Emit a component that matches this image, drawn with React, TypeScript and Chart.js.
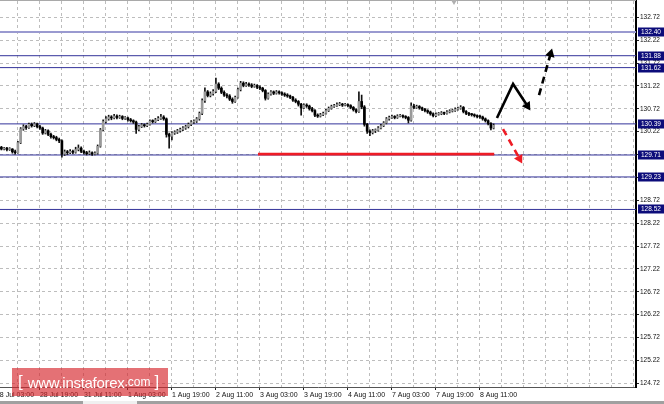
import React, { useEffect, useRef } from "react";
import { Chart, registerables } from "chart.js";
Chart.register(...registerables);

// H1 candles (index 0 = 28 Jul 03:00)
const opens = [129.85,129.86,129.88,129.84,129.86,129.83,129.84,129.78,129.76,129.98,
130.28,130.33,130.31,130.38,130.35,130.39,130.33,130.30,130.19,130.24,
130.16,130.11,130.09,130.05,130.02,129.73,129.78,129.76,129.79,129.77,
129.83,129.86,129.79,129.76,129.74,129.76,129.73,129.75,129.90,130.26,
130.44,130.50,130.54,130.52,130.56,130.53,130.55,130.51,130.52,130.48,
130.46,130.43,130.27,130.33,130.37,130.35,130.38,130.45,130.44,130.48,
130.51,130.54,130.50,130.16,130.12,130.19,130.21,130.24,130.27,130.30,
130.33,130.38,130.43,130.45,130.50,130.62,130.90,131.09,131.01,131.05,
131.10,131.26,131.17,131.08,131.02,131.00,130.93,130.88,130.97,131.14,
131.28,131.23,131.26,131.24,131.21,131.23,131.19,131.17,131.12,130.95,
131.04,131.09,131.06,131.09,131.07,131.04,131.02,131.00,130.97,130.91,
130.88,130.82,130.74,130.80,130.78,130.72,130.68,130.58,130.56,130.59,
130.62,130.68,130.73,130.77,130.79,130.81,130.82,130.80,130.81,130.79,
130.75,130.70,130.66,130.88,130.76,130.38,130.23,130.20,130.24,130.25,
130.30,130.35,130.41,130.50,130.53,130.55,130.53,130.56,130.57,130.55,
130.53,130.47,130.78,130.75,130.77,130.74,130.71,130.68,130.65,130.61,
130.57,130.60,130.61,130.63,130.62,130.65,130.67,130.68,130.71,130.73,
130.75,130.66,130.62,130.60,130.59,130.57,130.55,130.54,130.50,130.46,
130.40,130.30];

const highs = [129.89,129.91,129.90,129.88,129.88,129.87,129.85,129.82,130.01,130.31,
130.37,130.36,130.41,130.41,130.42,130.41,130.36,130.32,130.27,130.26,
130.19,130.14,130.12,130.08,130.04,129.82,129.81,129.83,129.82,129.88,
129.93,129.89,129.82,129.79,129.80,129.78,129.78,129.93,130.29,130.48,
130.55,130.58,130.57,130.60,130.59,130.58,130.57,130.55,130.54,130.51,
130.48,130.45,130.36,130.40,130.39,130.41,130.48,130.48,130.51,130.55,
130.60,130.57,130.52,130.19,130.22,130.24,130.27,130.30,130.33,130.36,
130.41,130.46,130.48,130.53,130.65,130.94,131.18,131.12,131.09,131.14,
131.39,131.29,131.20,131.11,131.05,131.03,130.96,131.00,131.17,131.32,
131.31,131.30,131.29,131.27,131.26,131.25,131.22,131.19,131.14,131.07,
131.12,131.11,131.12,131.11,131.09,131.07,131.05,131.02,130.99,130.94,
130.90,130.84,130.83,130.83,130.80,130.75,130.70,130.61,130.62,130.65,
130.71,130.76,130.80,130.82,130.85,130.86,130.84,130.84,130.83,130.81,
130.77,130.72,131.09,131.02,130.79,130.40,130.26,130.27,130.28,130.33,
130.38,130.44,130.53,130.56,130.58,130.57,130.59,130.60,130.59,130.57,
130.55,130.85,130.82,130.80,130.79,130.76,130.73,130.70,130.67,130.63,
130.63,130.64,130.66,130.65,130.68,130.70,130.71,130.74,130.76,130.79,
130.77,130.68,130.64,130.62,130.61,130.59,130.58,130.56,130.52,130.48,
130.42,130.39];

const lows = [129.82,129.84,129.82,129.82,129.80,129.81,129.75,129.73,129.75,129.96,
130.25,130.27,130.29,130.32,130.33,130.30,130.27,130.16,130.17,130.13,
130.08,130.06,130.02,129.98,129.66,129.70,129.72,129.74,129.74,129.75,
129.80,129.76,129.73,129.71,129.72,129.70,129.71,129.73,129.88,130.24,
130.41,130.47,130.48,130.50,130.50,130.51,130.48,130.49,130.45,130.43,
130.40,130.18,130.24,130.31,130.32,130.33,130.36,130.41,130.42,130.46,
130.49,130.47,130.10,129.86,130.04,130.16,130.18,130.21,130.24,130.27,
130.30,130.35,130.40,130.42,130.47,130.59,130.86,130.98,130.98,131.02,
131.07,131.14,131.05,130.99,130.96,130.90,130.84,130.86,130.95,131.11,
131.20,131.21,131.21,131.18,131.19,131.16,131.14,131.09,130.91,130.93,
131.02,131.03,131.04,131.04,131.01,130.99,130.97,130.94,130.88,130.85,
130.78,130.58,130.72,130.75,130.69,130.65,130.55,130.53,130.54,130.57,
130.60,130.66,130.71,130.75,130.77,130.79,130.77,130.78,130.76,130.72,
130.67,130.63,130.64,130.72,130.34,130.18,130.13,130.17,130.20,130.23,
130.28,130.33,130.39,130.47,130.51,130.50,130.51,130.54,130.52,130.50,
130.41,130.45,130.72,130.73,130.71,130.68,130.65,130.62,130.58,130.54,
130.55,130.58,130.59,130.59,130.60,130.63,130.65,130.66,130.69,130.71,
130.63,130.59,130.57,130.56,130.54,130.52,130.51,130.47,130.43,130.37,
130.26,130.28];

const closes = [129.86,129.88,129.84,129.86,129.83,129.84,129.78,129.76,129.98,130.28,
130.33,130.31,130.38,130.35,130.39,130.33,130.30,130.19,130.24,130.16,
130.11,130.09,130.05,130.02,129.73,129.78,129.76,129.79,129.77,129.83,
129.86,129.79,129.76,129.74,129.76,129.73,129.75,129.90,130.26,130.44,
130.50,130.54,130.52,130.56,130.53,130.55,130.51,130.52,130.48,130.46,
130.43,130.27,130.33,130.37,130.35,130.38,130.45,130.44,130.48,130.51,
130.54,130.50,130.16,130.12,130.19,130.21,130.24,130.27,130.30,130.33,
130.38,130.43,130.45,130.50,130.62,130.90,131.09,131.01,131.05,131.10,
131.26,131.17,131.08,131.02,131.00,130.93,130.88,130.97,131.14,131.28,
131.23,131.26,131.24,131.21,131.23,131.19,131.17,131.12,130.95,131.04,
131.09,131.06,131.09,131.07,131.04,131.02,131.00,130.97,130.91,130.88,
130.82,130.74,130.80,130.78,130.72,130.68,130.58,130.56,130.59,130.62,
130.68,130.73,130.77,130.79,130.81,130.82,130.80,130.81,130.79,130.75,
130.70,130.66,130.88,130.76,130.38,130.23,130.20,130.24,130.25,130.30,
130.35,130.41,130.50,130.53,130.55,130.53,130.56,130.57,130.55,130.53,
130.47,130.78,130.75,130.77,130.74,130.71,130.68,130.65,130.61,130.57,
130.60,130.61,130.63,130.62,130.65,130.67,130.68,130.71,130.73,130.75,
130.66,130.62,130.60,130.59,130.57,130.55,130.54,130.50,130.46,130.40,
130.30,130.36];

const timeLabels = ["28 Jul 03:00","28 Jul 19:00","31 Jul 11:00","1 Aug 03:00","1 Aug 19:00","2 Aug 11:00","3 Aug 03:00","3 Aug 19:00","4 Aug 11:00","7 Aug 03:00","7 Aug 19:00","8 Aug 11:00"];
const yTickValues = [124.72,125.22,125.72,126.22,126.72,127.22,127.72,128.22,128.72,129.22,129.72,130.22,130.72,131.22,131.72,132.22,132.72];
const levels = [132.40, 131.88, 131.62, 130.39, 129.71, 129.23, 128.52];
const majorLevel = 132.40;
const barsPerLabel = 16;
const barsPerGrid = 8;
const gridCount = 30;

const xMin = 1.49;
const xMax = 232.76;
const yMin = 124.639;
const yMax = 133.076;

// forecast drawing (bar index, price)
const redLineX = [95.3, 181.2];
const redLineY = 129.73;
const upArrowX = [182.2, 188.05, 193.25];
const upArrowY = [130.52, 131.262, 130.785];
const dashUpX = [197.5, 201.7];
const dashUpY = [131.02, 131.922];
const dashDownX = [184.4, 190.4];
const dashDownY = [130.278, 129.631];

const NAVY_LINE = "#33339a";
const LABEL_BG = "#0c0c7a";

function arrowDataset(xs: number[], ys: number[], color: string, dash: number[]) {
  const data = xs.map((x, i) => ({ x, y: ys[i] }));
  const last = data.length - 1;
  return {
    type: "line" as const,
    data,
    borderColor: color,
    backgroundColor: color,
    borderWidth: 2.6,
    borderDash: dash,
    tension: 0,
    fill: false,
    order: 1,
    pointStyle: "triangle",
    pointRadius: (ctx: any) => (ctx.dataIndex === last ? 5.5 : 0),
    pointBorderWidth: 0,
    pointBackgroundColor: color,
    pointRotation: (ctx: any) => {
      const c = ctx.chart;
      const sx = c.scales.x, sy = c.scales.y;
      const a = data[last - 1], b = data[last];
      const dx = sx.getPixelForValue(b.x) - sx.getPixelForValue(a.x);
      const dy = sy.getPixelForValue(b.y) - sy.getPixelForValue(a.y);
      return (Math.atan2(dx, -dy) * 180) / Math.PI;
    },
  };
}

const levelLabelPlugin = {
  id: "levelLabels",
  afterDraw(chart: any) {
    const ctx = chart.ctx;
    const sy = chart.scales.y;
    const left = chart.chartArea.right + 2;
    ctx.save();
    ctx.font = "6.5px 'Liberation Sans', Arial, sans-serif";
    ctx.textBaseline = "middle";
    ctx.textAlign = "left";
    levels.forEach((v) => {
      const y = sy.getPixelForValue(v);
      ctx.fillStyle = LABEL_BG;
      ctx.fillRect(left, Math.round(y) - 4.5, 664 - left, 9);
      ctx.fillStyle = "#ffffff";
      ctx.fillText(v.toFixed(2), left + 3, Math.round(y) + 0.5);
    });
    ctx.restore();
  },
};

export default function App() {
  const ref = useRef<HTMLCanvasElement | null>(null);
  useEffect(() => {
    if (!ref.current) return;
    const levelSets = levels.map((v) => ({
      type: "line" as const,
      data: [{ x: xMin, y: v }, { x: xMax, y: v }],
      borderColor: v === majorLevel ? "#9a9ad0" : NAVY_LINE,
      borderWidth: v === majorLevel ? 2 : 1,
      pointRadius: 0,
      order: 10,
    }));
    const chart = new Chart(ref.current, {
      type: "bar",
      data: {
        datasets: [
          ...levelSets,
          {
            type: "line" as const,
            data: redLineX.map((x) => ({ x, y: redLineY })),
            borderColor: "#ee1c25",
            borderWidth: 2.6,
            pointRadius: 0,
            order: 3,
          },
          {
            type: "bar" as const,
            data: closes.map((_, i) => ({ x: i, y: [lows[i], highs[i]] })),
            backgroundColor: "#111111",
            borderWidth: 0,
            barThickness: 1,
            grouped: false,
            order: 5,
          },
          {
            type: "bar" as const,
            data: closes.map((c, i) => ({ x: i, y: [opens[i], c] })),
            backgroundColor: closes.map((c, i) => (c >= opens[i] ? "#9a9a9a" : "#000000")),
            borderWidth: 0,
            borderSkipped: false,
            minBarLength: 1,
            barThickness: 2,
            grouped: false,
            order: 4,
          },
          arrowDataset(upArrowX, upArrowY, "#000000", []),
          arrowDataset(dashUpX, dashUpY, "#000000", [7, 5]),
          arrowDataset(dashDownX, dashDownY, "#ee1c25", [7, 5]),
        ] as any,
      },
      options: {
        responsive: false,
        animation: false,
        devicePixelRatio: 1,
        layout: { autoPadding: false, padding: { top: 1, left: 0, right: 0, bottom: 0 } },
        plugins: { legend: { display: false }, tooltip: { enabled: false } },
        scales: {
          x: {
            type: "linear",
            offset: false,
            min: xMin,
            max: xMax,
            afterBuildTicks: (scale: any) => {
              scale.ticks = Array.from({ length: gridCount }, (_, m) => ({ value: m * barsPerGrid }));
            },
            afterFit: (scale: any) => {
              scale.height = 17;
              scale.paddingLeft = 0;
              scale.paddingRight = 0;
            },
            ticks: {
              autoSkip: false,
              maxRotation: 0,
              align: "start",
              padding: 1,
              color: "#111111",
              font: { family: "'Liberation Sans', Arial, sans-serif", size: 7 },
              callback: (v: any) => {
                const n = Number(v);
                if (n % barsPerLabel !== 0) return "";
                const k = n / barsPerLabel;
                return k < timeLabels.length ? timeLabels[k] : "";
              },
            },
            grid: {
              offset: false,
              color: "#bdbdbd",
              lineWidth: 1,
              tickLength: 3,
              tickBorderDash: [],
              tickColor: (ctx: any) => {
                const v = ctx.tick ? ctx.tick.value : -1;
                return v % barsPerLabel === 0 && v / barsPerLabel < timeLabels.length ? "#222222" : "rgba(0,0,0,0)";
              },
            },
            border: { display: true, color: "#555555", width: 1, dash: [3, 3] },
          },
          y: {
            type: "linear",
            position: "right",
            min: yMin,
            max: yMax,
            afterBuildTicks: (scale: any) => {
              scale.ticks = yTickValues.map((v) => ({ value: v }));
            },
            afterFit: (scale: any) => {
              scale.width = 28;
              scale.paddingTop = 0;
              scale.paddingBottom = 0;
            },
            ticks: {
              autoSkip: false,
              padding: 1,
              color: "#111111",
              font: { family: "'Liberation Sans', Arial, sans-serif", size: 6.5 },
              callback: (v: any) => Number(v).toFixed(2),
            },
            grid: {
              color: "#bdbdbd",
              lineWidth: 1,
              tickLength: 3,
              tickBorderDash: [],
              tickColor: "#222222",
            },
            border: { display: true, color: "#000000", width: 2, dash: [3, 3] },
          },
        },
      } as any,
      plugins: [levelLabelPlugin],
    });
    return () => chart.destroy();
  }, []);

  return (
    <div style={{ position: "fixed", left: 0, top: 0, width: 664, height: 404, background: "#ffffff", overflow: "hidden" }}>
      <canvas ref={ref} width={664} height={404} style={{ position: "absolute", left: 0, top: 0, width: 664, height: 404 }} />
      <div style={{ position: "absolute", left: 0, top: 0, width: 636, height: 1, background: "#a9a9a9" }} />
      <div
        style={{
          position: "absolute", left: 451, top: 0, width: 0, height: 0,
          borderLeft: "3px solid transparent", borderRight: "3px solid transparent",
          borderTop: "5px solid #b0b0b0",
        }}
      />
      <div
        style={{
          position: "absolute", left: 12, top: 368, width: 156, height: 28,
          background: "rgba(214, 40, 45, 0.66)", color: "#ffffff",
          fontFamily: "'Liberation Sans', Arial, sans-serif", whiteSpace: "nowrap",
          display: "flex", alignItems: "center",
        }}
      >
        <span style={{ fontSize: 17, marginLeft: 6, marginRight: 5 }}>[</span>
        <span style={{ fontSize: 15, letterSpacing: -0.3 }}>www.instaforex</span>
        <span style={{ fontSize: 12 }}>.com</span>
        <span style={{ fontSize: 17, marginLeft: 4 }}>]</span>
      </div>
      <div style={{ position: "absolute", left: 0, top: 401, width: 664, height: 3, background: "#a0a0a0" }} />
      <div style={{ position: "absolute", left: 83, top: 401, width: 54, height: 3, background: "#f0f0f0" }} />
    </div>
  );
}
